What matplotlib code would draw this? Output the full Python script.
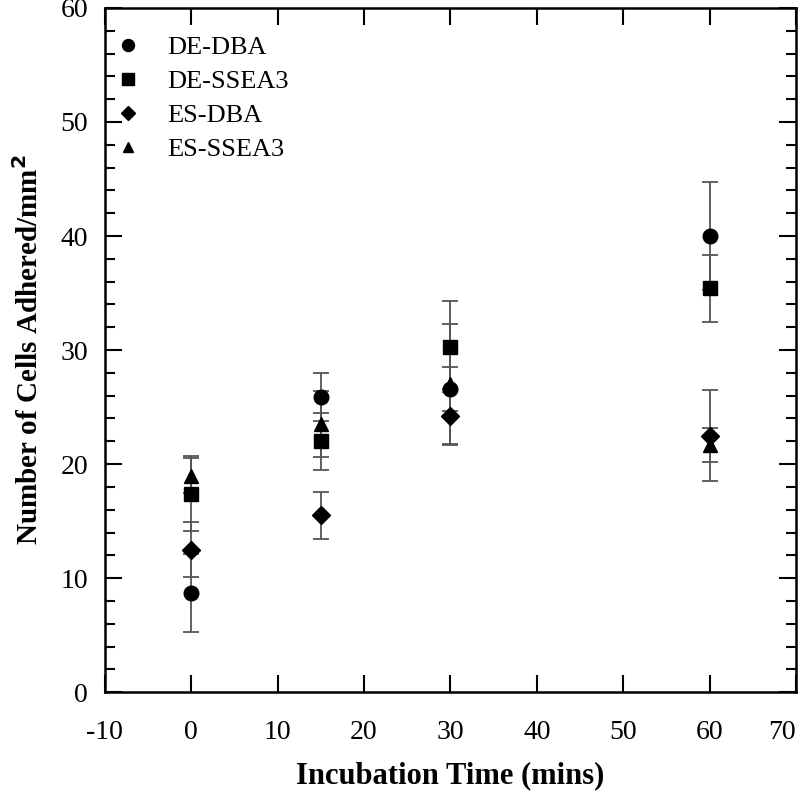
import matplotlib.pyplot as plt
from matplotlib.ticker import MultipleLocator

plt.rcParams['font.family'] = ['Liberation Serif', 'DejaVu Serif']
plt.rcParams['axes.unicode_minus'] = False

time = [0, 15, 30, 60]

de_dba = [8.7, 25.9, 26.6, 40.0]
de_dba_err = [3.4, 2.1, 1.9, 4.7]
de_ssea3 = [17.4, 22.0, 30.3, 35.4]
de_ssea3_err = [3.3, 2.5, 4.0, 2.9]
es_dba = [12.5, 15.5, 24.2, 22.5]
es_dba_err = [2.4, 2.05, 2.4, 4.0]
es_ssea3 = [19.0, 23.5, 27.0, 21.7]
es_ssea3_err = [1.5, 2.9, 5.3, 1.5]

xticks = [-10, 0, 10, 20, 30, 40, 50, 60, 70]

series = [
    ('DE-DBA', de_dba, de_dba_err, 'o'),
    ('DE-SSEA3', de_ssea3, de_ssea3_err, 's'),
    ('ES-DBA', es_dba, es_dba_err, 'D'),
    ('ES-SSEA3', es_ssea3, es_ssea3_err, '^'),
]
msizes = {'o': 10.5, 's': 10, 'D': 9, '^': 9.5}

fig = plt.figure(figsize=(8, 7.92), dpi=100)
ax = fig.add_axes([0.131, 0.126, 0.864, 0.864])

for label, vals, errs, m in series:
    ax.errorbar(time, vals, yerr=errs, fmt='none', ecolor='#555555',
                elinewidth=1.3, capsize=6, capthick=1.3, zorder=2)
for label, vals, errs, m in series:
    ax.plot(time, vals, linestyle='none', marker=m, color='black',
            markersize=msizes[m], label=label, zorder=3)

ax.set_xlim(-10, 70)
ax.set_ylim(0, 60)
ax.set_xticks(xticks, [str(t) for t in xticks])
ax.yaxis.set_major_locator(MultipleLocator(10))
ax.yaxis.set_minor_locator(MultipleLocator(2))
ax.tick_params(which='both', direction='in', top=True, right=True,
               width=1.5, labelsize=20)
ax.tick_params(which='major', length=12)
ax.tick_params(which='minor', length=7)
ax.tick_params(axis='x', which='major', pad=20)
ax.tick_params(axis='y', which='major', pad=12)
ax.tick_params(axis='x', which='minor', bottom=False, top=False)
for s in ax.spines.values():
    s.set_linewidth(1.8)
# last x tick label sits at the figure edge
ax.get_xticklabels()[-1].set_horizontalalignment('right')

ax.set_xlabel('Incubation Time (mins)', fontsize=22, fontweight='bold', labelpad=12)
ax.set_ylabel('Number of Cells Adhered/mm$^\\mathbf{2}$', fontsize=21,
              fontweight='bold', labelpad=12)

leg = ax.legend(loc='upper left', bbox_to_anchor=(0.014, 0.959), frameon=False,
                fontsize=19, markerscale=0.82, handletextpad=1.0,
                labelspacing=0.39, borderaxespad=0, borderpad=0,
                handlelength=1.0)

fig.savefig('out.png', dpi=100)
